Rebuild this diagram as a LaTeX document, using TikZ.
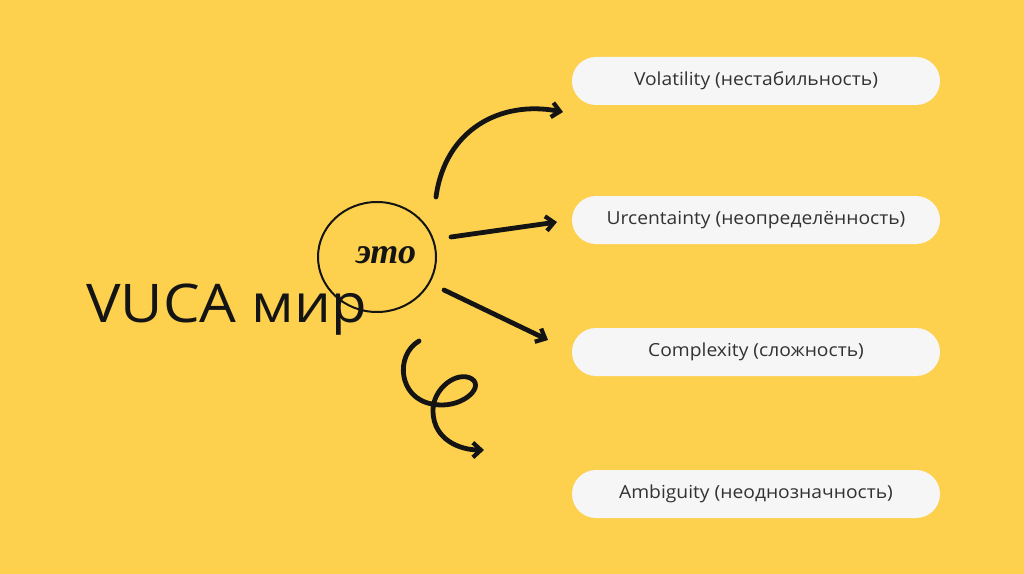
\documentclass[tikz,border=0pt]{standalone}
\usepackage{fontspec}
\setmainfont{Open Sans}
\newfontfamily\etofont{Liberation Serif}
\newfontfamily\widefont[FakeStretch=1.09]{Open Sans}
\newfontfamily\pillfont[FakeStretch=1.07]{Open Sans}
\usetikzlibrary{arrows.meta}
\definecolor{bgyellow}{RGB}{253,209,78}
\definecolor{pillfill}{RGB}{246,246,246}
\definecolor{pilltext}{RGB}{50,50,50}
\definecolor{ink}{RGB}{20,20,20}
\tikzset{
  pill/.style={fill=pillfill, draw=none, rounded corners=18pt, minimum width=276pt, minimum height=36pt, inner sep=0pt, text=pilltext, font=\pillfont\fontsize{13.5}{15}\selectfont},
  hand/.style={line width=3.6pt, ink, line cap=round, line join=round, -{Straight Barb[length=6pt,width=11pt,line width=3.2pt]}},
}
\begin{document}
\begin{tikzpicture}[x=0.75pt,y=-0.75pt]
\fill[bgyellow] (0,0) rectangle (1024,574);
\useasboundingbox (0,0) rectangle (1024,574);
\node[pill] (v) at (756,81) {Volatility (нестабильность)};
\node[pill] (u) at (756,220) {Urcentainty (неопределённость)};
\node[pill] (c) at (756,352) {Complexity (сложность)};
\node[pill] (a) at (756,494) {Ambiguity (неоднозначность)};
\node[anchor=base west, inner sep=0pt, text=ink, font=\widefont\fontsize{40}{44}\selectfont] (vuca) at (86,322) {VUCA мир};
\draw[ink, line width=1.5pt] (377,257) ellipse [x radius=59, y radius=55];
\node[inner sep=0pt, text=ink, font=\etofont\bfseries\itshape\fontsize{27}{29}\selectfont] (eto) at (386,255) {это};
\coordinate (s1) at (436,197);
\coordinate (e1) at (563,112);
\coordinate (s2) at (451,237);
\coordinate (e2) at (557,222);
\coordinate (s3) at (444,290);
\coordinate (e3) at (548,340);
\coordinate (s4) at (419,341);
\coordinate (e4) at (484,450);
\draw[hand] (s1) .. controls (445,130) and (500,100) .. (e1);
\draw[hand] (s2) -- (e2);
\draw[hand] (s3) -- (e3);
\draw[hand] (s4) .. controls (395,355) and (398,398) .. (432,404) .. controls (460,410) and (485,388) .. (472,379) .. controls (458,370) and (432,388) .. (433,412) .. controls (434,440) and (460,450) .. (e4);
\end{tikzpicture}
\end{document}
